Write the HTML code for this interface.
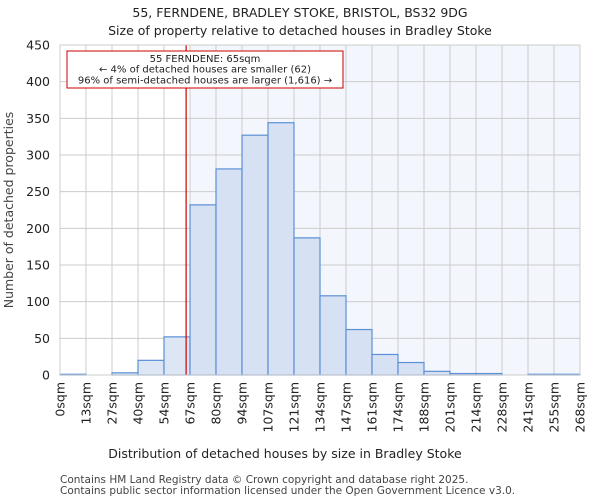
<!DOCTYPE html>
<html><head><meta charset="utf-8"><style>
body{margin:0;background:#fff;font-family:"DejaVu Sans","Liberation Sans",sans-serif;}
</style></head><body>
<svg width="600" height="500" xmlns="http://www.w3.org/2000/svg" font-family="DejaVu Sans, Liberation Sans, sans-serif">
<text x="300" y="17" text-anchor="middle" font-size="12.5" fill="#222">55, FERNDENE, BRADLEY STOKE, BRISTOL, BS32 9DG</text>
<text x="300" y="35" text-anchor="middle" font-size="12.5" fill="#222">Size of property relative to detached houses in Bradley Stoke</text>
<g id="plot"></g>
<text x="285" y="458" text-anchor="middle" font-size="12.5" fill="#222">Distribution of detached houses by size in Bradley Stoke</text>
<text transform="translate(13,210) rotate(-90)" text-anchor="middle" font-size="12.5" fill="#444">Number of detached properties</text>
<text x="60" y="483" font-size="10.5" fill="#444">Contains HM Land Registry data © Crown copyright and database right 2025.</text>
<text x="60" y="494" font-size="10.5" fill="#444">Contains public sector information licensed under the Open Government Licence v3.0.</text>
</svg>
<script>
const categories=["0sqm","13sqm","27sqm","40sqm","54sqm","67sqm","80sqm","94sqm","107sqm","121sqm","134sqm","147sqm","161sqm","174sqm","188sqm","201sqm","214sqm","228sqm","241sqm","255sqm","268sqm"];
const counts=[1,0,3,20,52,232,281,327,344,187,108,62,28,17,5,2,2,0,1,1];
const yTicks=[0,50,100,150,200,250,300,350,400,450];
const propertySize=65;
const binWidth=13.4;
const X0=60,X1=580,Y0=375,Y1=45,YMAX=450;
const bw=(X1-X0)/counts.length;
const xs=v=>X0+v/binWidth*bw;
const ys=v=>Y0-(v/YMAX)*(Y0-Y1);
const NS="http://www.w3.org/2000/svg";
const g=document.getElementById('plot');
function mk(t,a){const e=document.createElementNS(NS,t);for(const k in a)e.setAttribute(k,a[k]);g.appendChild(e);return e;}
const px=xs(propertySize);
const hiStart=X0+Math.ceil(propertySize/binWidth)*bw;
let e=mk('rect',{x:hiStart,y:Y1,width:X1-hiStart,height:Y0-Y1,fill:'#f3f6fd'});


for(let i=0;i<=counts.length;i++){const x=X0+i*bw;
 e=mk('line',{x1:x,x2:x,y1:Y1,y2:Y0,stroke:'#cccccc','stroke-width':1});
 
 
 e=mk('text',{transform:`translate(${x+4.5},${Y0+7}) rotate(-90)`,'text-anchor':'end','font-size':12.5,fill:'#222'});
 e.textContent=categories[i];
 
 }
yTicks.forEach(v=>{const y=ys(v);
 e=mk('line',{x1:X0,x2:X1,y1:y,y2:y,stroke:'#cccccc','stroke-width':1});
 
 
 e=mk('text',{x:X0-10,y:y+4.5,'text-anchor':'end','font-size':12.5,fill:'#222'});
 e.textContent=v;
 
 });
counts.forEach((c,i)=>{const x=X0+i*bw;
 e=mk('rect',{x:x,y:ys(c),width:bw,height:Y0-ys(c),fill:x>=hiStart-0.1?'#d6e1f3':'#dde6f4',stroke:'#5b8fd6','stroke-width':1.2});
 
 });
e=mk('line',{x1:px,x2:px,y1:Y1,y2:Y0,stroke:'#cc0000','stroke-width':1.2});


e=mk('rect',{x:X0,y:Y1,width:X1-X0,height:Y0-Y1,fill:'none',stroke:'#cccccc'});


e=mk('rect',{x:67,y:51,width:276,height:37,fill:'#fff',stroke:'#cc0000','stroke-width':1});


["55 FERNDENE: 65sqm","← 4% of detached houses are smaller (62)","96% of semi-detached houses are larger (1,616) →"].forEach((t,i)=>{
 e=mk('text',{x:205,y:62+i*10.7,'text-anchor':'middle','font-size':10,fill:'#222'});
 e.textContent=t;
 
 });
</script>
</body></html>
